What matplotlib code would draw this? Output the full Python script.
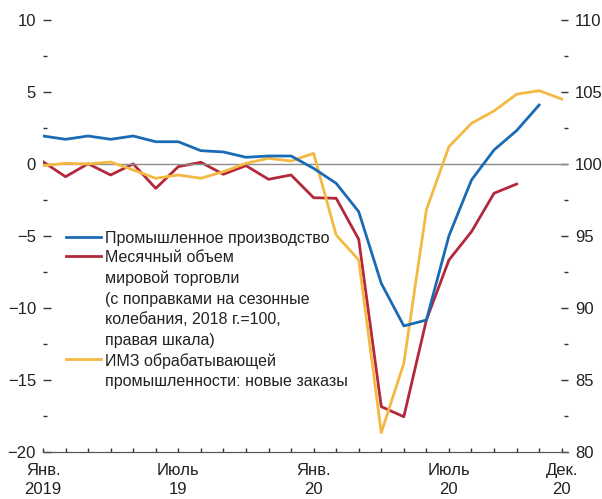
import numpy as np
import matplotlib
matplotlib.use("Agg")
import matplotlib.pyplot as plt
from matplotlib import font_manager
from matplotlib.ticker import MultipleLocator, FixedLocator

# --- данные (по месяцам, янв. 2019 - дек. 2020) ---
months = np.arange(24)
tick_pos = [0, 6, 12, 18, 23]
tick_labels = ["Янв.\n2019", "Июль\n19", "Янв.\n20", "Июль\n20", "Дек.\n20"]

# промышленное производство, левая шкала (до нояб. 2020)
industry = [1.94, 1.71, 1.94, 1.71, 1.94, 1.54, 1.54, 0.92, 0.83, 0.46, 0.55, 0.55,
            -0.31, -1.35, -3.32, -8.3, -11.26, -10.85, -5.0, -1.12, 0.97, 2.31, 4.09]
# мировая торговля, правая шкала (до окт. 2020)
trade = [100.15, 99.11, 100.01, 99.23, 100.0, 98.3, 99.81, 100.11, 99.28, 99.88, 98.93, 99.23,
         97.65, 97.61, 94.76, 83.13, 82.43, 89.15, 93.32, 95.29, 97.96, 98.6]
# ИМЗ: новые заказы, левая шкала
pmi = [-0.12, 0.04, 0.0, 0.13, -0.42, -1.0, -0.77, -1.0, -0.54, 0.04, 0.39, 0.2,
       0.73, -4.94, -6.68, -18.68, -13.86, -3.2, 1.2, 2.82, 3.68, 4.84, 5.09, 4.51]

BLUE = "#1a6bb5"
RED = "#b3283a"
YELLOW = "#f4b942"
TXT = "#222222"
FS = 11.5

names = {f.name for f in font_manager.fontManager.ttflist}
family = "Liberation Sans Narrow" if "Liberation Sans Narrow" in names else "Liberation Sans"
plt.rcParams["font.family"] = [family, "DejaVu Sans"]
plt.rcParams["font.size"] = FS

fig = plt.figure(figsize=(6.02, 4.99), dpi=100)
ax = fig.add_axes([43 / 602, 1 - 451.7 / 499, 525 / 602, 431.7 / 499])
ax2 = ax.twinx()

ax.set_xlim(0, 23.28)
ax.set_ylim(-20, 10)
ax2.set_ylim(80, 110)

ax.axhline(0, color="#8c8c8c", lw=1.0, zorder=1)

ax2.plot(months[:len(trade)], trade, color=RED, lw=2.0, zorder=3)
ax.plot(months, pmi, color=YELLOW, lw=2.0, zorder=2)
ax.plot(months[:len(industry)], industry, color=BLUE, lw=2.0, zorder=4)
ax.set_zorder(ax2.get_zorder() + 1)
ax.patch.set_visible(False)

for a in (ax, ax2):
    for s in ("top", "left", "right"):
        a.spines[s].set_visible(False)
    a.spines["bottom"].set_color("#555555")

ax.yaxis.set_minor_locator(MultipleLocator(2.5))
ax2.yaxis.set_minor_locator(MultipleLocator(2.5))
ax.set_yticks(np.arange(-20, 11, 5))
ax.set_yticklabels(["\u221220", "\u221215", "\u221210", "\u22125", "0", "5", "10"])
ax2.set_yticks(np.arange(80, 111, 5))
ax2.set_yticklabels([str(v) for v in range(80, 111, 5)])

ax.tick_params(axis="y", which="major", direction="in", length=6, width=1,
               color="#333333", labelcolor=TXT, pad=5, labelsize=12)
ax.tick_params(axis="y", which="minor", direction="in", length=3, width=1, color="#333333")
ax2.tick_params(axis="y", which="major", direction="in", length=5, width=1,
                color="#333333", labelcolor=TXT, pad=5, labelsize=12)
ax2.tick_params(axis="y", which="minor", direction="in", length=3, width=1, color="#333333")

ax.set_xticks(tick_pos)
ax.set_xticklabels(tick_labels, linespacing=1.35)
ax.xaxis.set_minor_locator(FixedLocator(months))
ax.tick_params(axis="x", which="both", direction="in", length=3, width=1,
               color="#333333", labelcolor=TXT, pad=8, labelsize=12)
ax2.tick_params(axis="x", which="both", bottom=False, labelbottom=False)

# легенда вручную
def fx(px):
    return (px - 43) / 525

def fy(py):
    return (451.7 - py) / 431.7

entries = [
    (BLUE, 237, "Промышленное производство"),
    (RED, 256, "Месячный объем\nмировой торговли\n(с поправками на сезонные\nколебания, 2018 г.=100,\nправая шкала)"),
    (YELLOW, 359, "ИМЗ обрабатывающей\nпромышленности: новые заказы"),
]
for color, py, label in entries:
    ax.plot([fx(66), fx(101)], [fy(py), fy(py)], color=color, lw=2.0,
            transform=ax.transAxes, clip_on=False, zorder=5)
    ax.text(fx(105), fy(py - 6), label, transform=ax.transAxes, ha="left", va="top",
            color=TXT, fontsize=FS, linespacing=1.46, zorder=5)

fig.savefig("out.png", dpi=100)
